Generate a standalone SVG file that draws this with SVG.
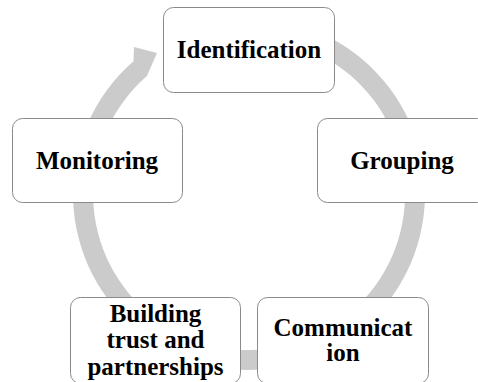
<svg xmlns="http://www.w3.org/2000/svg" width="478" height="382" viewBox="0 0 478 382">
  <style>
    .node rect { fill: #ffffff; stroke: #8a8a8a; stroke-width: 1; }
    .node text { font-family: "Liberation Serif", "Times New Roman", serif; font-weight: bold; font-size: 25px; fill: #000000; text-anchor: middle; }
    .ring { fill: #cbcbcb; stroke: none; }
  </style>

  <!-- continuous cycle arrow behind the nodes: centre (249,194), band radii 156..176 -->
  <g id="connectors">
    <path class="ring" d="M 294.5 24.0 A 176 176 0 1 1 133.5 61.2 L 134 47 L 157 53 L 146.9 76.1 A 156 156 0 1 0 289.4 43.3 Z"/>
  </g>

  <g id="identification" class="node">
    <rect x="163.5" y="7.5" width="171" height="85" rx="10" ry="10"/>
    <text x="249" y="58">Identification</text>
  </g>

  <g id="grouping" class="node">
    <rect x="317.5" y="118.5" width="170" height="84" rx="10" ry="10"/>
    <text x="402" y="168.5">Grouping</text>
  </g>

  <g id="communication" class="node">
    <rect x="257.5" y="297.5" width="171" height="86" rx="10" ry="10"/>
    <text x="343" y="335.5">Communicat</text>
    <text x="343" y="361">ion</text>
  </g>

  <g id="building-trust" class="node">
    <rect x="70.5" y="297.5" width="170" height="86" rx="10" ry="10"/>
    <text x="155.5" y="322">Building</text>
    <text x="155.5" y="348.3">trust and</text>
    <text x="155.5" y="374.5">partnerships</text>
  </g>

  <g id="monitoring" class="node">
    <rect x="12.5" y="118.5" width="170" height="84" rx="10" ry="10"/>
    <text x="97" y="168.5">Monitoring</text>
  </g>
</svg>
